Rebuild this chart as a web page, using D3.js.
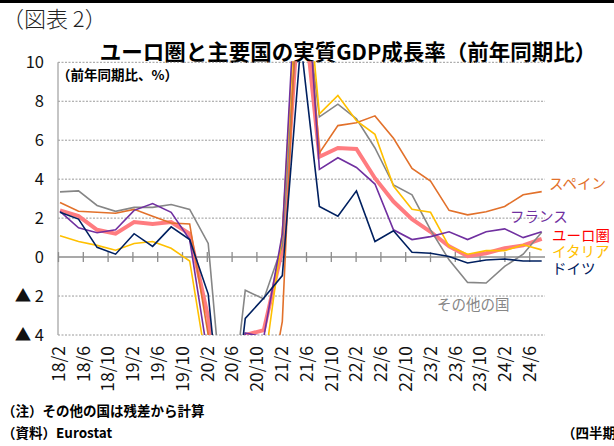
<!DOCTYPE html>
<html>
<head>
<meta charset="utf-8">
<script src="https://cdn.jsdelivr.net/npm/d3@7"></script>
<style>
  body { margin: 0; background: #fff; }
  svg { display: block; font-family: "Noto Sans CJK JP", "Noto Sans", sans-serif; }
</style>
</head>
<body>
<div id="chart"></div>
<script>
// quarterly, 2018Q1 .. 2024Q3 (year-on-year, %)
const quarters = [
  "18Q1","18Q2","18Q3","18Q4","19Q1","19Q2","19Q3","19Q4",
  "20Q1","20Q2","20Q3","20Q4","21Q1","21Q2","21Q3","21Q4",
  "22Q1","22Q2","22Q3","22Q4","23Q1","23Q2","23Q3","23Q4",
  "24Q1","24Q2","24Q3"
];
const tickLabels = [
  "18/2","18/6","18/10","19/2","19/6","19/10","20/2","20/6","20/10","21/2",
  "21/6","21/10","22/2","22/6","22/10","23/2","23/6","23/10","24/2","24/6"
];
const yTicks = [-4, -2, 0, 2, 4, 6, 8, 10];

const euroArea = [2.4, 2.1, 1.4, 1.2, 1.8, 1.7, 1.8, 1.2, -3.1, -14.4, -4.0, -3.75, 0.4, 14.3,
  5.15, 5.6, 5.55, 4.05, 2.85, 1.95, 1.3, 0.55, 0.05, 0.2, 0.45, 0.6, 0.93];
const germany = [2.3, 1.95, 0.5, 0.15, 1.2, 0.55, 1.55, 0.9, -1.9, -11.4, -3.15, -2.1, -0.95, 11.0,
  2.6, 2.1, 3.4, 0.8, 1.35, 0.25, 0.2, 0.03, -0.3, -0.15, -0.1, -0.2, -0.2];
const france = [2.35, 1.5, 1.25, 1.4, 2.4, 2.75, 2.3, 0.9, -5.2, -18.6, -3.9, -4.1, 1.2, 19.0,
  4.5, 5.1, 4.6, 3.75, 1.4, 0.9, 1.05, 1.3, 0.9, 1.3, 1.45, 1.0, 1.3];
const italy = [1.1, 0.8, 0.6, 0.35, 0.7, 0.8, 0.45, -0.2, -6.0, -18.0, -5.0, -5.8, 1.2, 17.5,
  7.35, 8.3, 7.0, 6.3, 3.65, 2.45, 2.3, 0.55, 0.15, 0.33, 0.33, 0.63, 0.37];
const spain = [2.8, 2.35, 2.3, 2.25, 2.45, 2.1, 1.75, 1.7, -4.0, -21.5, -8.8, -8.6, -3.3, 17.8,
  5.35, 6.75, 6.9, 7.25, 6.1, 4.55, 3.9, 2.4, 2.17, 2.33, 2.6, 3.2, 3.36];
const others = [3.35, 3.4, 2.65, 2.35, 2.55, 2.55, 2.7, 2.45, 0.7, -10.0, -1.7, -2.15, 0.6, 15.0,
  7.2, 7.85, 7.1, 5.6, 3.7, 3.2, 1.4, -0.14, -1.3, -1.33, -0.48, 0.15, 1.27];

const seriesNames = ["ユーロ圏", "その他の国", "スペイン", "イタリア", "フランス", "ドイツ"];
const seriesValues = [euroArea, others, spain, italy, france, germany];

const W = 614, H = 446;
const plot = { left: 58, right: 545, top: 62.3, bottom: 335 };

const svg = d3.select("#chart").append("svg")
  .attr("width", W)
  .attr("height", H);

// top rule
svg.append("rect").attr("x", 0).attr("y", 0).attr("width", W).attr("height", 3).attr("fill", "#000");

svg.append("text")
  .attr("x", 2).attr("y", 27)
  .attr("font-size", 22)
  .attr("font-weight", 300)
  .attr("fill", "#222")
  .text("（図表 2）");

svg.append("text")
  .attr("x", 348).attr("y", 60)
  .attr("text-anchor", "middle")
  .attr("font-size", 21.5)
  .attr("font-weight", "bold")
  .text("ユーロ圏と主要国の実質GDP成長率（前年同期比）");

// scales
const xq = d3.scaleLinear().domain([0, quarters.length - 1]).range([60, 541.7]);
const xm = d3.scalePoint().domain(tickLabels).range([58, 58 + 24.8 * (tickLabels.length - 1)]);
const y = d3.scaleLinear().domain([-4, 10]).range([plot.bottom, plot.top]);

// gridlines
svg.append("g")
  .selectAll("line")
  .data(yTicks.filter(d => d !== 0))
  .join("line")
  .attr("x1", plot.left).attr("x2", plot.right)
  .attr("y1", d => y(d)).attr("y2", d => y(d))
  .attr("stroke", "#9a9a9a")
  .attr("stroke-width", 1)
  .attr("stroke-dasharray", "2,1.5");

// y axis labels
const yAxis = svg.append("g")
  .attr("transform", `translate(${plot.left},0)`)
  .call(d3.axisLeft(y).tickValues(yTicks).tickSize(0).tickPadding(14)
    .tickFormat(d => d < 0 ? "▲ " + Math.abs(d) : d));
yAxis.select(".domain").remove();
yAxis.selectAll("text")
  .attr("font-size", 16.5)
  .attr("font-family", "'Noto Sans CJK JP', sans-serif")
  .attr("fill", "#111");

// vertical axis line
svg.append("line")
  .attr("x1", plot.left).attr("x2", plot.left)
  .attr("y1", plot.top).attr("y2", plot.bottom)
  .attr("stroke", "#a6a6a6").attr("stroke-width", 1.3);

// zero line with crossing ticks
svg.append("line")
  .attr("x1", plot.left).attr("x2", plot.right)
  .attr("y1", y(0)).attr("y2", y(0))
  .attr("stroke", "#8c8c8c").attr("stroke-width", 1.5);
const xAxis = svg.append("g")
  .attr("transform", `translate(0,${y(0)})`)
  .call(d3.axisBottom(xm).tickSize(5).tickFormat(""));
xAxis.select(".domain").remove();
xAxis.selectAll(".tick line")
  .attr("y1", -5).attr("y2", 5)
  .attr("stroke", "#8c8c8c").attr("stroke-width", 1.3);

// x labels (rotated)
const xLab = svg.append("g")
  .attr("transform", `translate(0,${plot.bottom})`)
  .call(d3.axisBottom(xm).tickSize(0));
xLab.select(".domain").remove();
xLab.selectAll("text")
  .attr("transform", "rotate(-90)")
  .attr("text-anchor", "end")
  .attr("x", -11)
  .attr("y", 0)
  .attr("dy", "0.36em")
  .attr("font-size", 17.5)
  .attr("font-family", "'Noto Sans CJK JP', sans-serif")
  .attr("fill", "#111");

// unit label
svg.append("text")
  .attr("x", 57).attr("y", 80)
  .attr("font-size", 13.5)
  .attr("font-weight", "bold")
  .text("（前年同期比、%）");

// lines
svg.append("clipPath").attr("id", "clip")
  .append("rect")
  .attr("x", plot.left).attr("y", plot.top - 1)
  .attr("width", plot.right - plot.left + 2)
  .attr("height", plot.bottom - plot.top + 1);

const colors = {
  "ユーロ圏": "#ff7c80",
  "その他の国": "#868686",
  "スペイン": "#e2712b",
  "イタリア": "#ffc000",
  "フランス": "#7030a0",
  "ドイツ": "#002060"
};
const widths = { "ユーロ圏": 4 };

const line = d3.line()
  .x((d, i) => xq(i))
  .y(d => y(d));

svg.append("g")
  .attr("clip-path", "url(#clip)")
  .selectAll("path")
  .data(seriesNames.map((name, k) => ({ name, values: seriesValues[k] })))
  .join("path")
  .attr("d", d => line(d.values))
  .attr("fill", "none")
  .attr("stroke", d => colors[d.name])
  .attr("stroke-width", d => widths[d.name] || 1.6)
  .attr("stroke-linejoin", "miter");

// series labels
const labels = [
  { name: "スペイン", x: 549, y: 189, color: "#e2712b" },
  { name: "フランス", x: 510, y: 222, color: "#7030a0" },
  { name: "ユーロ圏", x: 552, y: 241, color: "#ff0000" },
  { name: "イタリア", x: 552, y: 257, color: "#ffc000" },
  { name: "ドイツ", x: 552, y: 274, color: "#002060" },
  { name: "その他の国", x: 437, y: 310, color: "#868686" }
];
svg.append("g")
  .selectAll("text")
  .data(labels)
  .join("text")
  .attr("x", d => d.x).attr("y", d => d.y)
  .attr("font-size", 14.5)
  .attr("fill", d => d.color)
  .text(d => d.name);

// notes
svg.append("text")
  .attr("x", 2).attr("y", 416)
  .attr("font-size", 13.5)
  .attr("font-weight", "bold")
  .text("（注）その他の国は残差から計算");
svg.append("text")
  .attr("x", 2).attr("y", 438)
  .attr("font-size", 13.5)
  .attr("font-weight", "bold")
  .text("（資料）Eurostat");
svg.append("text")
  .attr("x", 562).attr("y", 438)
  .attr("font-size", 13.5)
  .attr("font-weight", "bold")
  .text("（四半期）");
</script>
</body>
</html>
